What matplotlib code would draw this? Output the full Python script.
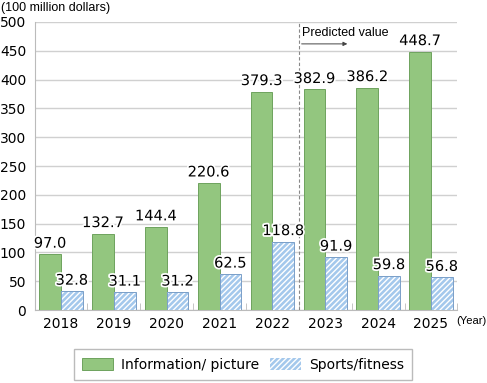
import matplotlib.pyplot as plt
import matplotlib.patheffects as pe
import numpy as np

years = ['2018', '2019', '2020', '2021', '2022', '2023', '2024', '2025']
info_picture = [97.0, 132.7, 144.4, 220.6, 379.3, 382.9, 386.2, 448.7]
sports_fitness = [32.8, 31.1, 31.2, 62.5, 118.8, 91.9, 59.8, 56.8]

plt.rcParams['font.family'] = ['DejaVu Sans']
narrow = ['Liberation Sans Narrow', 'Liberation Sans']
fig = plt.figure(figsize=(4.87, 3.83), dpi=100)
ax = fig.add_axes([34.6/487, 1-310/383, 422.8/487, 288/383])

x = np.arange(len(years))
w = 0.41
green = '#93C67F'
blue = '#A4C8EC'

ax.bar(x - w/2, info_picture, w, color=green, edgecolor='#6EA35E', lw=0.7,
       zorder=3, label='Information/ picture')
ax.bar(x + w/2, sports_fitness, w, color=blue, edgecolor='white', hatch='//////',
       lw=0, zorder=3)
ax.bar(x + w/2, sports_fitness, w, facecolor='none', edgecolor='#7A9FC8', lw=0.7,
       zorder=4)
# legend proxy
sp = plt.Rectangle((0, 0), 1, 1, facecolor=blue, edgecolor='white', hatch='//////', lw=0)

halo = [pe.withStroke(linewidth=2.5, foreground='white')]
for i in range(len(years)):
    ax.text(x[i] - w/2, info_picture[i] + 6, '%.1f' % info_picture[i], ha='center',
            va='bottom', fontsize=10.5, zorder=5, path_effects=halo)
    ax.text(x[i] + w/2, sports_fitness[i] + 6, '%.1f' % sports_fitness[i],
            ha='center', va='bottom', fontsize=10.5, zorder=5, path_effects=halo)

ax.set_xlim(-0.5, len(years) - 0.5)
ax.set_ylim(0, 500)
ax.set_yticks(np.arange(0, 501, 50))
ax.set_xticks(x)
ax.set_xticklabels(years)
ax.set_xticks(np.arange(-0.5, len(years), 1), minor=True)
ax.tick_params(axis='x', which='major', length=0, labelsize=10, pad=5)
ax.tick_params(axis='x', which='minor', length=5, color='#BBBBBB', direction='in')
ax.tick_params(axis='y', length=0, labelsize=10, pad=6)
ax.grid(axis='y', color='#D0D0D0', lw=1, zorder=0)
for s in ['top', 'right']:
    ax.spines[s].set_visible(False)
ax.spines['left'].set_color('#BBBBBB')
ax.spines['bottom'].set_color('#BBBBBB')

# predicted value marker
ax.axvline(4.5, color='#888888', ls=(0, (3, 2)), lw=0.8, zorder=2)
ax.text(4.56, 481, 'Predicted value', fontsize=9, ha='left', va='center',
        family=narrow)
ax.annotate('', xy=(5.47, 462), xytext=(4.5, 462),
            arrowprops=dict(arrowstyle='-|>', color='#444444', lw=0.7, mutation_scale=6))

fig.text(1/487, 1-8/383, '(100 million dollars)', fontsize=9, va='center', ha='left',
         family=narrow)
fig.text(456/487, 1-321/383, '(Year)', fontsize=8, va='center', ha='left',
         family=narrow)

ax.legend([ax.patches[0], sp], ['Information/ picture', 'Sports/fitness'],
          loc='center', bbox_to_anchor=(243/487, 1-364.5/383), bbox_transform=fig.transFigure,
          ncol=2, fontsize=10, frameon=True, fancybox=False, edgecolor='#AAAAAA',
          handlelength=2.2, handleheight=1.0, columnspacing=0.8, borderpad=0.6,
          handletextpad=0.6)

plt.savefig('out.png', dpi=100)
